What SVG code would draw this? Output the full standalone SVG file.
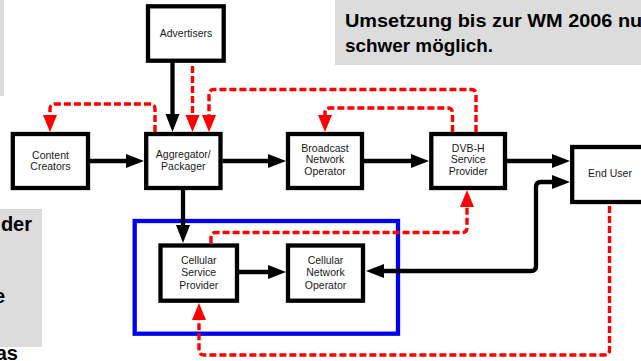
<svg xmlns="http://www.w3.org/2000/svg" width="641" height="361" viewBox="0 0 641 361">
  <style>
    .box { fill: #fff; stroke: #000; stroke-width: 4.3; }
    .lbl { font-family: "Liberation Sans", Arial, sans-serif; font-size: 10.5px; text-anchor: middle; fill: #1a1a1a; }
    .note { fill: #dcdcdc; }
    .nt { font-family: "Liberation Sans", Arial, sans-serif; font-weight: bold; fill: #000; }
    .blk { fill: none; stroke: #000; stroke-width: 4.3; }
    .red { fill: none; stroke: #f00; stroke-width: 3.4; stroke-dasharray: 7 3; }
  </style>
  <defs>
    <marker id="ab" markerUnits="userSpaceOnUse" markerWidth="20" markerHeight="16" refX="10" refY="7" orient="auto-start-reverse" overflow="visible">
      <path d="M0,0 L18,7 L0,14 z" fill="#000"/>
    </marker>
    <marker id="ar" markerUnits="userSpaceOnUse" markerWidth="20" markerHeight="16" refX="9" refY="7" orient="auto" overflow="visible">
      <path d="M0,0 L17,7 L0,14 z" fill="#f00"/>
    </marker>
  </defs>

  <!-- side notes -->
  <g id="notes">
    <rect class="note" x="0" y="0" width="4" height="96"/>
    <rect class="note" x="0" y="209" width="42" height="138"/>
    <rect class="note" x="335" y="0" width="306" height="65"/>
    <text class="nt" x="345" y="27" font-size="19" textLength="305" lengthAdjust="spacingAndGlyphs">Umsetzung bis zur WM 2006 nur</text>
    <text class="nt" x="345" y="52" font-size="19" textLength="148" lengthAdjust="spacingAndGlyphs">schwer möglich.</text>
    <text class="nt" x="32" y="231" font-size="20" text-anchor="end">der</text>
    <text class="nt" x="5" y="303" font-size="20" text-anchor="end">e</text>
    <text class="nt" x="18" y="360" font-size="20" text-anchor="end">as</text>
  </g>

  <!-- cellular domain frame -->
  <rect id="cellular-frame" x="134.7" y="221" width="263.3" height="112.7" fill="none" stroke="#0000f0" stroke-width="4.3"/>

  <g id="advertisers">
    <rect class="box" x="148" y="6.3" width="75.7" height="54.4"/>
    <text class="lbl" x="186" y="36.5">Advertisers</text>
  </g>
  <g id="content-creators">
    <rect class="box" x="12.8" y="134" width="75.2" height="54"/>
    <text class="lbl" x="50.5" y="158.5">Content</text>
    <text class="lbl" x="50.5" y="170">Creators</text>
  </g>
  <g id="aggregator">
    <rect class="box" x="146.2" y="134" width="74.3" height="54"/>
    <text class="lbl" x="183.3" y="158">Aggregator/</text>
    <text class="lbl" x="183.3" y="169.5">Packager</text>
  </g>
  <g id="broadcast-operator">
    <rect class="box" x="288" y="134" width="74" height="54"/>
    <text class="lbl" x="325" y="151.5">Broadcast</text>
    <text class="lbl" x="325" y="163.3">Network</text>
    <text class="lbl" x="325" y="175">Operator</text>
  </g>
  <g id="dvbh-provider">
    <rect class="box" x="431.3" y="134" width="73.7" height="54"/>
    <text class="lbl" x="468.2" y="151.5">DVB-H</text>
    <text class="lbl" x="468.2" y="163.3">Service</text>
    <text class="lbl" x="468.2" y="175">Provider</text>
  </g>
  <g id="end-user">
    <rect class="box" x="572.2" y="147" width="76" height="55"/>
    <text class="lbl" x="610" y="177">End User</text>
  </g>
  <g id="cellular-provider">
    <rect class="box" x="160.5" y="245.5" width="76.5" height="55.2"/>
    <text class="lbl" x="198.7" y="264">Cellular</text>
    <text class="lbl" x="198.7" y="276.4">Service</text>
    <text class="lbl" x="198.7" y="288.6">Provider</text>
  </g>
  <g id="cellular-operator">
    <rect class="box" x="288" y="245.5" width="75" height="55.2"/>
    <text class="lbl" x="325.5" y="264">Cellular</text>
    <text class="lbl" x="325.5" y="276.4">Network</text>
    <text class="lbl" x="325.5" y="288.6">Operator</text>
  </g>

  <g id="connectors">
    <!-- content flow -->
    <path class="blk" d="M172.5,61 V124" marker-end="url(#ab)"/>
    <path class="blk" d="M90,161 H136" marker-end="url(#ab)"/>
    <path class="blk" d="M222.5,161 H278" marker-end="url(#ab)"/>
    <path class="blk" d="M364,161 H421" marker-end="url(#ab)"/>
    <path class="blk" d="M507,161 H562" marker-end="url(#ab)"/>
    <path class="blk" d="M183,190 V235" marker-end="url(#ab)"/>
    <path class="blk" d="M239,272 H278" marker-end="url(#ab)"/>
    <path class="blk" d="M562,182 H541 Q536,182 536,187 V266 Q536,271 531,271 H374" marker-start="url(#ab)" marker-end="url(#ab)"/>

    <!-- revenue flow -->
    <path class="red" d="M155,132 V109 Q155,104 150,104 H55 Q50,104 50,109 V124" marker-end="url(#ar)"/>
    <path class="red" d="M192.5,66 V124" marker-end="url(#ar)"/>
    <path class="red" d="M476,132 V94.5 Q476,89.5 471,89.5 H214 Q209,89.5 209,94.5 V124" marker-end="url(#ar)"/>
    <path class="red" d="M452.5,132 V113 Q452.5,108 447.5,108 H330 Q325,108 325,113 V124" marker-end="url(#ar)"/>
    <path class="red" d="M211,243 V237.5 Q211,232.5 216,232.5 H462 Q467,232.5 467,227.5 V198" marker-end="url(#ar)"/>
    <path class="red" d="M609.5,206 V350 Q609.5,355 604.5,355 H204 Q199,355 199,350 V311" marker-end="url(#ar)"/>
  </g>
</svg>
